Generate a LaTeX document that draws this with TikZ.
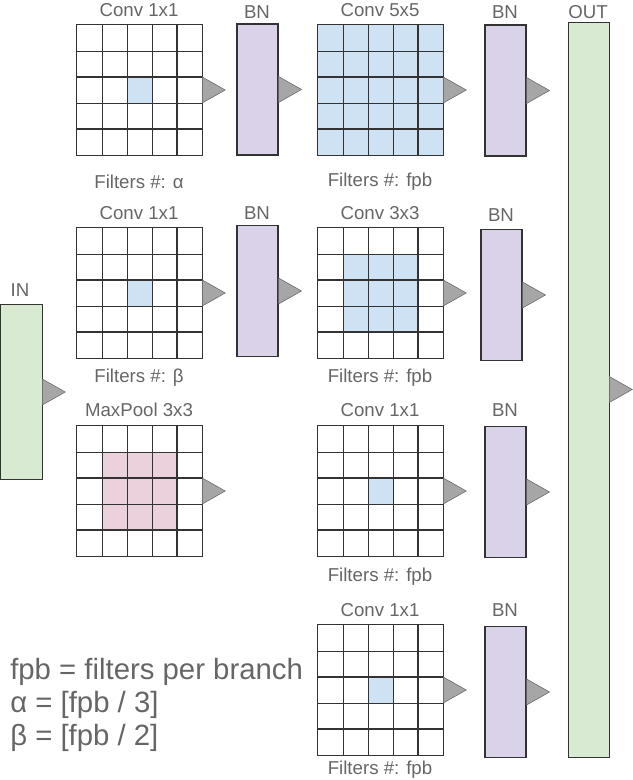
\documentclass[tikz,border=0pt]{standalone}
\usepackage{fontspec}
\setmainfont{Liberation Sans}
\definecolor{cblue}{HTML}{CFE2F3}
\definecolor{cpurp}{HTML}{D9D2E9}
\definecolor{cgreen}{HTML}{D9EAD3}
\definecolor{cpink}{HTML}{EAD1DC}
\definecolor{cgray}{HTML}{A6A6A6}
\definecolor{ctxt}{HTML}{666666}
\newcommand\cgrid[3]{% name, x, y (top-left)
  \node[gridbox] (#1) at (#2+62.5,#3+65) {};
  \foreach \i in {1,2,3,4}{
    \draw[thin,black!80] (#2+25*\i,#3)--(#2+25*\i,#3+130);
    \draw[thin,black!80] (#2,#3+26*\i)--(#2+125,#3+26*\i);}
  \draw[thick,black!80] (#2,#3+52)--(#2+125,#3+52) (#2,#3+104)--(#2+125,#3+104) (#2+100,#3)--(#2+100,#3+130);
  \draw[thick,black!80] (#1.north west) rectangle (#1.south east);}
\newcommand\tri[1]{\draw[fill=cgray,draw=black!60] (#1.east)++(0,-13)--++(0,26)--++(23,-13)--cycle;}
\begin{document}
\begin{tikzpicture}[x=0.75pt,y=-0.75pt,
  gridbox/.style={draw=none,minimum width=125*0.75pt,minimum height=130*0.75pt,inner sep=0},
  bn/.style={draw=black!80,thick,fill=cpurp,minimum width=41*0.75pt,minimum height=131*0.75pt,inner sep=0},
  lbl/.style={text=ctxt,font=\fontsize{14}{16}\selectfont}]
\useasboundingbox (0,0) rectangle (632,780);
% IN / OUT
\node[draw=black!80,fill=cgreen,minimum width=42*0.75pt,minimum height=175*0.75pt,inner sep=0] (in) at (21,392) {};
\node[lbl] (inl) at (20,290) {IN};
\node[draw=black!80,fill=cgreen,minimum width=41*0.75pt,minimum height=735*0.75pt,inner sep=0] (out) at (588.5,389.5) {};
\node[lbl] (outl) at (588,12) {OUT};
% Branch 1
\fill[cblue] (127,77) rectangle (152,103);
\cgrid{g11}{77}{25}
\node[lbl] at (139,10) {Conv 1x1};
\node[lbl] at (139,182) {Filters \#: α};
\node[bn] (b11) at (257.5,89.5) {}; \node[lbl] at (257,12) {BN};
\fill[cblue] (318,25) rectangle (443,155);
\cgrid{g12}{318}{25}
\node[lbl] at (380,10) {Conv 5x5};
\node[lbl] at (380,182) {Filters \#: fpb};
\node[bn] (b12) at (505.5,90.5) {}; \node[lbl] at (505,12) {BN};
% Branch 2
\fill[cblue] (127,280) rectangle (152,306);
\cgrid{g21}{77}{228}
\node[lbl] at (139,213) {Conv 1x1};
\node[lbl] at (139,378) {Filters \#: β};
\node[bn] (b21) at (257.5,291) {}; \node[lbl] at (257,213) {BN};
\fill[cblue] (343,254) rectangle (418,332);
\cgrid{g22}{318}{228}
\node[lbl] at (380,213) {Conv 3x3};
\node[lbl] at (380,378) {Filters \#: fpb};
\node[bn] (b22) at (501.5,295) {}; \node[lbl] at (501,215) {BN};
% Branch 3
\fill[cpink] (102,452) rectangle (177,530);
\cgrid{g31}{77}{426}
\node[lbl] at (139,410) {MaxPool 3x3};
\fill[cblue] (368,478) rectangle (393,504);
\cgrid{g32}{318}{426}
\node[lbl] at (380,410) {Conv 1x1};
\node[lbl] at (380,577) {Filters \#: fpb};
\node[bn] (b32) at (505.5,492) {}; \node[lbl] at (505,410) {BN};
% Branch 4
\fill[cblue] (368,677) rectangle (393,703);
\cgrid{g42}{318}{625}
\node[lbl] at (380,610) {Conv 1x1};
\node[lbl] at (380,770) {Filters \#: fpb};
\node[bn] (b42) at (505.5,692) {}; \node[lbl] at (505,610) {BN};
% triangles
\tri{in}\tri{out}
\tri{g11}\tri{b11}\tri{g12}\tri{b12}
\tri{g21}\tri{b21}\tri{g22}\tri{b22}
\tri{g31}\tri{g32}\tri{b32}
\tri{g42}\tri{b42}
% legend
\node[text=ctxt,font=\fontsize{22}{25}\selectfont,align=left,anchor=west,inner sep=0] (leg) at (10,705) {fpb = filters per branch\\ α = [fpb / 3]\\ β = [fpb / 2]};
\end{tikzpicture}
\end{document}
